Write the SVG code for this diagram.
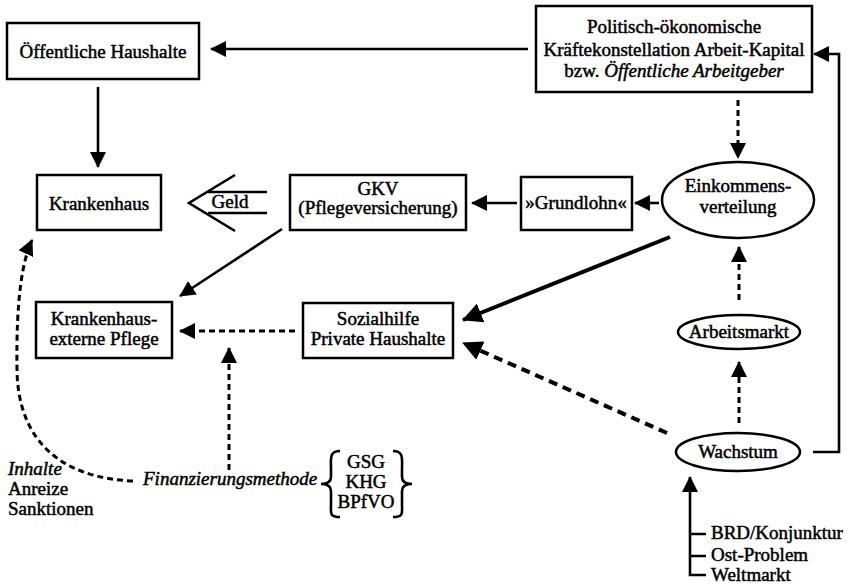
<svg xmlns="http://www.w3.org/2000/svg" width="849" height="585" viewBox="0 0 849 585">
<defs>
<marker id="ah" markerUnits="userSpaceOnUse" markerWidth="18" markerHeight="16" refX="15" refY="8" orient="auto">
<path d="M0,0 L16,8 L0,16 z" fill="#000"/>
</marker>
<marker id="ahL" markerUnits="userSpaceOnUse" markerWidth="22" markerHeight="20" refX="19" refY="10" orient="auto">
<path d="M0,0 L20,10 L0,20 z" fill="#000"/>
</marker>
<style>
text{font-family:"Liberation Serif","Times New Roman",serif;font-size:19px;fill:#000;stroke:#000;stroke-width:0.5}
.c{text-anchor:middle}
.i{font-style:italic}
.box{fill:#fff;stroke:#000;stroke-width:2.5}
.ell{fill:#fff;stroke:#000;stroke-width:2.5}
.s{fill:none;stroke:#000;stroke-width:2.6}
.sT{fill:none;stroke:#000;stroke-width:4}
.d{fill:none;stroke:#000;stroke-width:3;stroke-dasharray:6 4}
.dT{fill:none;stroke:#000;stroke-width:4;stroke-dasharray:9 6}
</style>
</defs>
<rect width="849" height="585" fill="#fff"/>

<g id="connectors">
<line class="s" x1="528" y1="49" x2="211" y2="49" marker-end="url(#ah)"/>
<line class="s" x1="98" y1="87" x2="98" y2="167" marker-end="url(#ah)"/>
<line class="d" x1="738" y1="100" x2="738" y2="158" marker-end="url(#ah)"/>
<line class="s" x1="517" y1="203" x2="472" y2="203" marker-end="url(#ah)"/>
<line class="s" x1="659" y1="203" x2="635" y2="203" marker-end="url(#ah)"/>
<line class="d" x1="739" y1="300" x2="739" y2="247" marker-end="url(#ah)"/>
<line class="d" x1="739" y1="423" x2="739" y2="362" marker-end="url(#ah)"/>
<line class="sT" x1="670" y1="237" x2="463" y2="320" marker-end="url(#ahL)"/>
<line class="dT" x1="667" y1="433" x2="463" y2="343" marker-end="url(#ahL)"/>
<path class="s" d="M813 452 H839 V54 H814" marker-end="url(#ah)"/>
<line class="s" x1="282" y1="229" x2="180" y2="296" marker-end="url(#ah)"/>
<line class="d" x1="295" y1="331" x2="180" y2="331" marker-end="url(#ah)"/>
<line class="d" x1="229" y1="470" x2="229" y2="348" marker-end="url(#ah)"/>
<path class="d" d="M133 481 C60 478 18 440 17 370 C16 300 22 262 32 240" marker-end="url(#ah)"/>
<path class="s" d="M706 534 H690 M706 556 H690 M706 575 H690 V477" marker-end="url(#ah)"/>
<g id="geld">
<polyline class="s" points="235,175 189,203 235,231"/>
<line class="s" x1="208" y1="192" x2="267" y2="192"/>
<line class="s" x1="208" y1="213" x2="267" y2="213"/>
<text class="c" x="230" y="208">Geld</text>
</g>
</g>

<g id="oeffentliche-haushalte">
<rect class="box" x="7" y="23" width="192" height="56"/>
<text class="c" x="103" y="58">Öffentliche Haushalte</text>
</g>
<g id="politisch">
<rect class="box" x="536" y="6" width="276" height="86"/>
<text class="c" x="674" y="33">Politisch-ökonomische</text>
<text class="c" x="674" y="56">Kräftekonstellation Arbeit-Kapital</text>
<text class="c" x="674" y="77">bzw. <tspan class="i">Öffentliche Arbeitgeber</tspan></text>
</g>
<g id="krankenhaus">
<rect class="box" x="37" y="175" width="124" height="55"/>
<text class="c" x="99" y="210">Krankenhaus</text>
</g>
<g id="gkv">
<rect class="box" x="290" y="175" width="176" height="55"/>
<text class="c" x="378" y="195">GKV</text>
<text class="c" x="378" y="214">(Pflegeversicherung)</text>
</g>
<g id="grundlohn">
<rect class="box" x="521" y="177" width="111" height="53"/>
<text class="c" x="576" y="209">»Grundlohn«</text>
</g>
<g id="einkommensverteilung">
<ellipse class="ell" cx="738" cy="200" rx="76" ry="38"/>
<text class="c" x="738" y="192">Einkommens-</text>
<text class="c" x="738" y="213">verteilung</text>
</g>
<g id="krankenhaus-externe-pflege">
<rect class="box" x="36" y="302" width="136" height="56"/>
<text class="c" x="104" y="325">Krankenhaus-</text>
<text class="c" x="104" y="345">externe Pflege</text>
</g>
<g id="sozialhilfe">
<rect class="box" x="303" y="303" width="150" height="55"/>
<text class="c" x="378" y="325">Sozialhilfe</text>
<text class="c" x="378" y="345">Private Haushalte</text>
</g>
<g id="arbeitsmarkt">
<ellipse class="ell" cx="739" cy="332" rx="61" ry="17"/>
<text class="c" x="739" y="338">Arbeitsmarkt</text>
</g>
<g id="wachstum">
<ellipse class="ell" cx="738" cy="452" rx="62" ry="19"/>
<text class="c" x="738" y="458">Wachstum</text>
</g>
<g id="faktoren">
<text x="711" y="539">BRD/Konjunktur</text>
<text x="711" y="561">Ost-Problem</text>
<text x="711" y="581">Weltmarkt</text>
</g>
<g id="finanzierungsmethode">
<text class="i" x="143" y="485">Finanzierungsmethode</text>
<path class="s" d="M340 451 C329 451 331 459 331 470 L331 477 C331 482 327 484 321 484 C327 484 331 486 331 491 L331 504 C331 513 329 517 340 517"/>
<path class="s" d="M393 451 C404 451 402 459 402 470 L402 477 C402 482 406 484 412 484 C406 484 402 486 402 491 L402 504 C402 513 404 517 393 517"/>
<text class="c" x="366" y="468">GSG</text>
<text class="c" x="366" y="488">KHG</text>
<text class="c" x="366" y="508">BPfVO</text>
</g>
<g id="inhalte">
<text class="i" x="8" y="475">Inhalte</text>
<text x="8" y="495">Anreize</text>
<text x="8" y="515">Sanktionen</text>
</g>
</svg>
